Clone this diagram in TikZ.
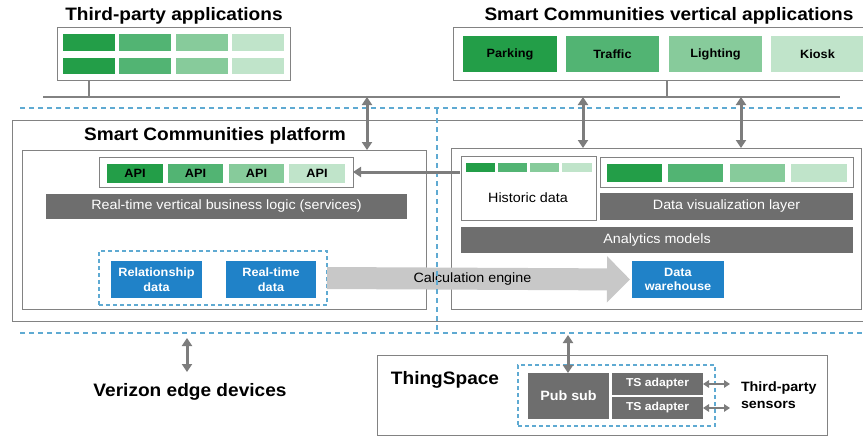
\documentclass[tikz,border=0pt]{standalone}
\usepackage{fontspec}
\setmainfont{Liberation Sans}[FakeStretch=1.06]
\usetikzlibrary{arrows.meta}
\definecolor{gA}{RGB}{35,158,72}
\definecolor{gB}{RGB}{82,180,115}
\definecolor{gC}{RGB}{135,203,155}
\definecolor{gD}{RGB}{192,228,202}
\definecolor{bblue}{RGB}{32,130,200}
\definecolor{dgray}{RGB}{110,110,110}
\definecolor{lgray}{RGB}{200,200,200}
\definecolor{fgray}{RGB}{130,130,130}
\definecolor{agray}{RGB}{125,125,125}
\definecolor{dblue}{RGB}{95,170,210}
\newcommand\bx[7]{\node[#6,minimum width={(#4-#2)*1pt},minimum height={(#5-#3)*1pt}] (#1) at ({(#2+#4)/2},{(#3+#5)/2}) {#7};}
\tikzset{
  every node/.style={inner sep=0pt,outer sep=0pt},
  frame/.style={draw=fgray,line width=1pt,fill=white},
  gbase/.style={font=\bfseries\fontsize{12}{14}\selectfont,text=black},
  gA/.style={gbase,fill=gA},
  gB/.style={gbase,fill=gB},
  gC/.style={gbase,fill=gC},
  gD/.style={gbase,fill=gD},
  reg/.style={font=\fontsize{13.5}{16}\selectfont},
  dbar/.style={fill=dgray,text=white,reg},
  bblk/.style={fill=bblue,text=white,font=\bfseries\fontsize{12}{14.5}\selectfont,align=center},
  dashbox/.style={draw=dblue,line width=1.3pt,dash pattern=on 4pt off 3pt},
  sep/.style={draw=dblue,line width=1.5pt,dash pattern=on 5pt off 4pt},
  bus/.style={draw=fgray,line width=1.2pt},
  dbl/.style={draw=agray,line width=3pt,{Triangle[length=8pt,width=10pt]}-{Triangle[length=8pt,width=10pt]}},
  dbls/.style={draw=agray,line width=2.2pt,{Triangle[length=6pt,width=7.5pt]}-{Triangle[length=6pt,width=7.5pt]}},
  sgl/.style={draw=agray,line width=3pt,-{Triangle[length=8pt,width=10pt]}},
  calcarrow/.style={draw=lgray,line width=22pt,-{Triangle[length=23pt,width=45pt]}},
  title/.style={font=\bfseries\fontsize{18}{21}\selectfont,text=black},
}
\begin{document}
\begin{tikzpicture}[x=1pt,y=-1pt]
\useasboundingbox (0,0) rectangle (863,437);
\clip (0,0) rectangle (863,437);
\fill[white] (0,0) rectangle (863,437);

% third-party applications
\node[title] (tpaT) at (174,16) {Third-party applications};
\bx{tpa}{57}{27}{290}{80}{frame}{}
\bx{t11}{63}{34}{115}{51}{gA}{}
\bx{t12}{119}{34}{171}{51}{gB}{}
\bx{t13}{176}{34}{228}{51}{gC}{}
\bx{t14}{232}{34}{284}{51}{gD}{}
\bx{t21}{63}{58}{115}{74}{gA}{}
\bx{t22}{119}{58}{171}{74}{gB}{}
\bx{t23}{176}{58}{228}{74}{gC}{}
\bx{t24}{232}{58}{284}{74}{gD}{}

% vertical applications
\node[title] (vaT) at (669,16) {Smart Communities vertical applications};
\bx{va}{453}{27}{880}{80}{frame}{}
\bx{park}{463}{36}{557}{72}{gA}{Parking}
\bx{traf}{566}{36}{659}{72}{gB}{Traffic}
\bx{light}{669}{36}{762}{72}{gC}{Lighting}
\bx{kiosk}{771}{36}{864}{72}{gD}{Kiosk}

% bus
\coordinate (busL) at (43,97);
\coordinate (busR) at (840,97);
\draw[bus] (busL) -- (busR);
\coordinate (tpaDrop) at (89,97);
\coordinate (vaDrop) at (667,97);
\draw[bus] (tpaDrop |- tpa.south) -- (tpaDrop);
\draw[bus] (vaDrop |- va.south) -- (vaDrop);

% platform
\bx{plat}{12}{120}{880}{321}{frame}{}
\node[title] (platT) at (215,136) {Smart Communities platform};
\bx{pl}{22}{150}{426}{309}{frame}{}
\bx{pr}{451}{148}{861}{309}{frame}{}

% top separator
\coordinate (d1L) at (20,108);
\coordinate (d1R) at (863,108);
\draw[sep] (d1L) -- (d1R);

% API
\bx{apibox}{99}{157}{353}{187}{frame}{}
\bx{api1}{107}{164}{163}{183}{gA}{API}
\bx{api2}{168}{164}{223}{183}{gB}{API}
\bx{api3}{229}{164}{284}{183}{gC}{API}
\bx{api4}{289}{164}{345}{183}{gD}{API}
\bx{biz}{46}{194}{407}{219}{dbar}{Real-time vertical business logic (services)}

\bx{dbox}{99}{251}{327}{305}{dashbox}{}
\bx{rel}{111}{261}{202}{298}{bblk}{Relationship\\data}
\bx{rt}{226}{261}{316}{298}{bblk}{Real-time\\data}

% right side
\bx{hist}{461}{156}{596}{220}{frame}{}
\node[reg] (histT) at (528,198) {Historic data};
\bx{h1}{466}{163}{495}{172}{gA}{}
\bx{h2}{498}{163}{527}{172}{gB}{}
\bx{h3}{530}{163}{559}{172}{gC}{}
\bx{h4}{562}{163}{592}{172}{gD}{}
\bx{viz}{600}{157}{853}{187}{frame}{}
\bx{v1}{607}{164}{662}{182}{gA}{}
\bx{v2}{668}{164}{723}{182}{gB}{}
\bx{v3}{730}{164}{785}{182}{gC}{}
\bx{v4}{791}{164}{847}{182}{gD}{}
\bx{vizbar}{600}{193}{853}{220}{dbar}{Data visualization layer}
\bx{ana}{461}{227}{853}{253}{dbar}{Analytics models}
\bx{dw}{632}{261}{724}{298}{bblk}{Data\\warehouse}

% calculation engine
\draw[calcarrow] (dbox.east) -- ([xshift=-2pt]dw.west)
  node[pos=0.48,reg,text=black] (calcT) {Calculation engine};

% vertical dashed separator
\coordinate (vdT) at (437,109);
\coordinate (vdB) at (437,333);
\draw[sep,line width=1.3pt] (vdT) -- (vdB);

% arrows from bus
\coordinate (a1) at (367,97);
\coordinate (a2) at (583,97);
\coordinate (a3) at (741,97);
\draw[dbl] (a1) -- (a1 |- pl.north);
\draw[dbl] (a2) -- (a2 |- pr.north);
\draw[dbl] (a3) -- (a3 |- pr.north);

% historic -> API
\coordinate (hA) at (460,172);
\draw[sgl] (hA) -- (hA -| apibox.east);

% bottom separator
\coordinate (d2L) at (20,333);
\coordinate (d2R) at (863,333);
\draw[sep] (d2L) -- (d2R);

% Verizon edge
\node[title] (vz) at (190,392) {Verizon edge devices};
\coordinate (vzA) at (187,338);
\coordinate (vzB) at (187,372);
\draw[dbl] (vzA) -- (vzB);

% ThingSpace
\bx{ts}{377}{355}{827}{435}{frame}{}
\node[title] (tsT) at (445,380) {ThingSpace};
\bx{tsd}{518}{365}{715}{426}{dashbox}{}
\bx{pub}{528}{373}{609}{419}{dbar}{\bfseries Pub sub}
\bx{ad1}{612}{373}{703}{395}{dbar}{\bfseries\fontsize{11.5}{13}\selectfont TS adapter}
\bx{ad2}{612}{397}{703}{419}{dbar}{\bfseries\fontsize{11.5}{13}\selectfont TS adapter}
\coordinate (ps) at (568,335);
\draw[dbl] (ps) -- (ps |- pub.north);
\coordinate (s1) at (730,384);
\coordinate (s2) at (730,408);
\draw[dbls] (ad1.east) -- (s1);
\draw[dbls] (ad2.east) -- (s2);
\node[anchor=west,align=left,font=\bfseries\fontsize{13.5}{17}\selectfont] (sens) at (741,395) {Third-party\\sensors};
\end{tikzpicture}
\end{document}
